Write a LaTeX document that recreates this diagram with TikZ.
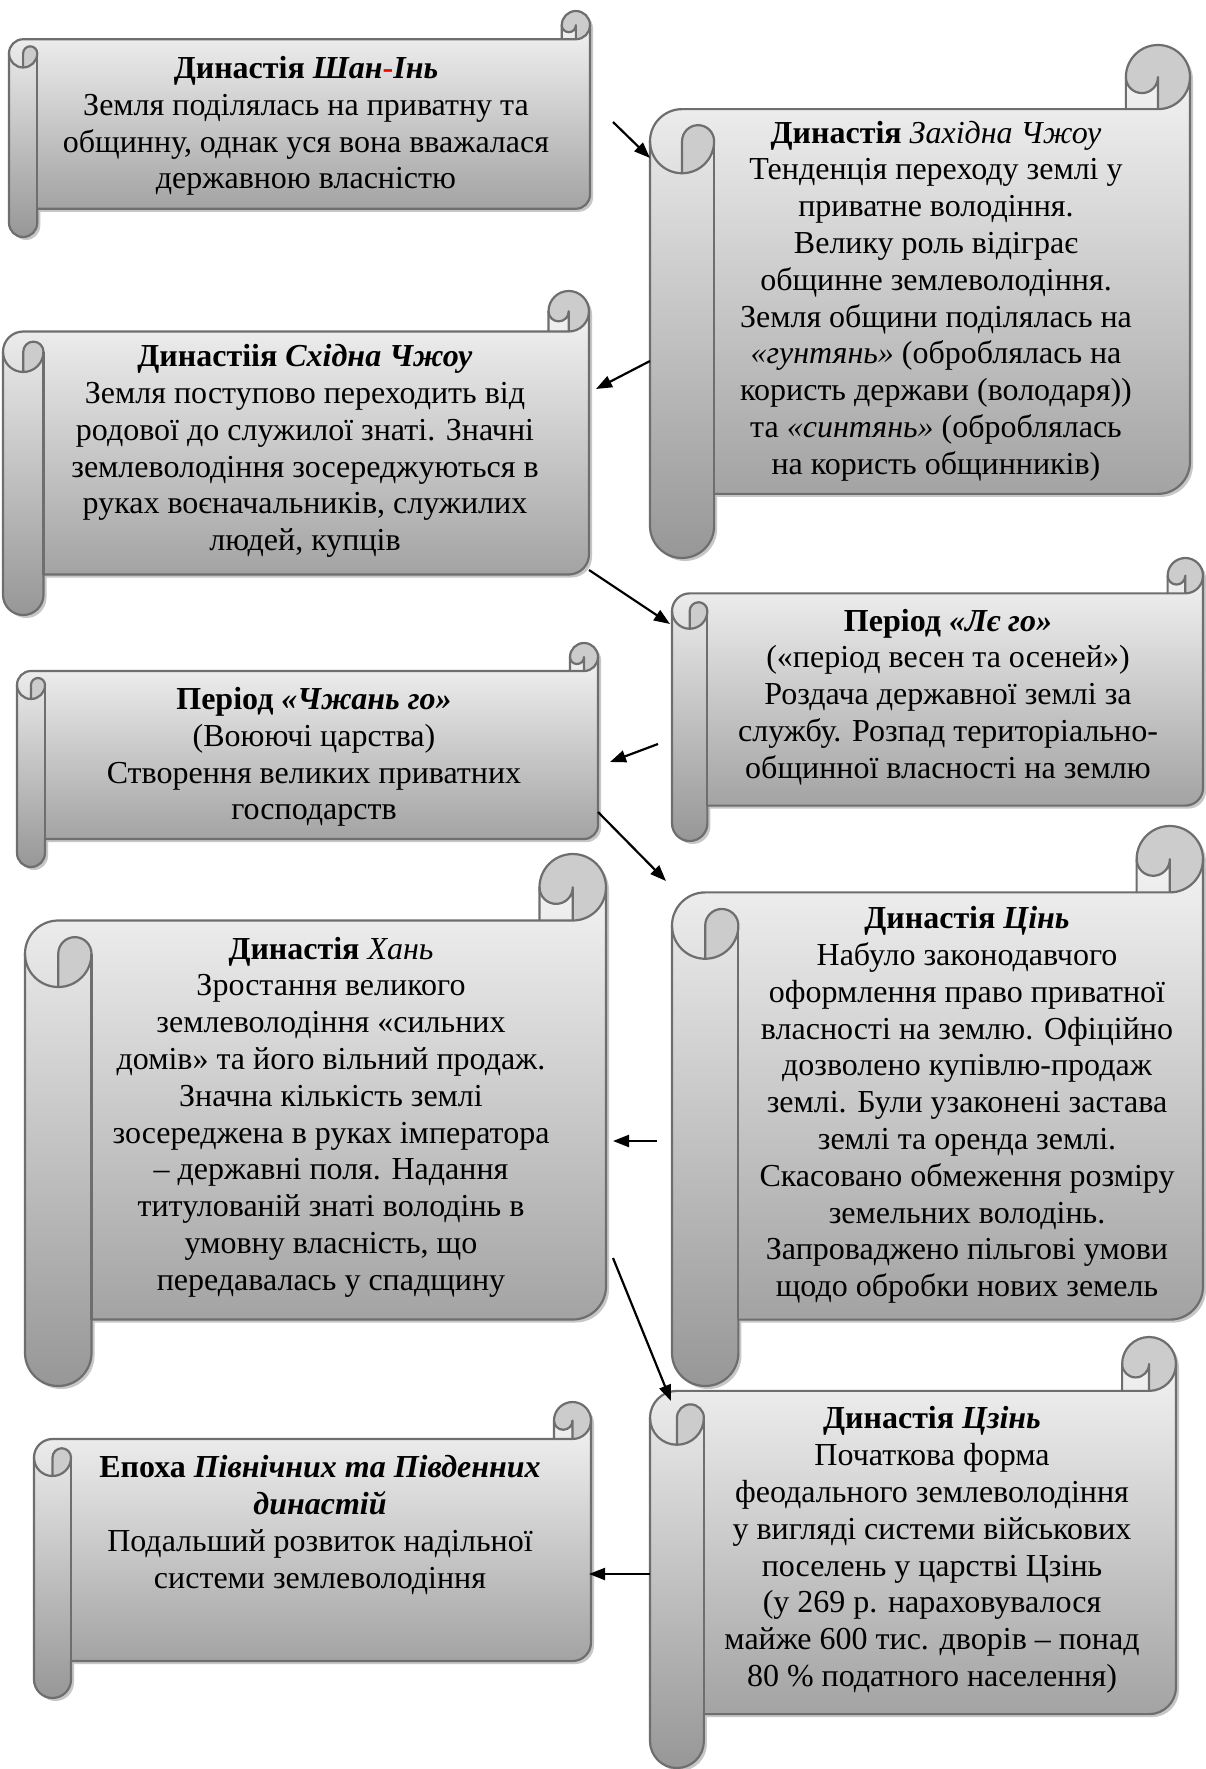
\documentclass[tikz,border=0pt]{standalone}
\usepackage{fontspec}
\setmainfont{Liberation Serif}
\usetikzlibrary{arrows.meta}
\definecolor{edgegray}{HTML}{6E6E6E}
\definecolor{rollgray}{HTML}{CCCCCC}
\definecolor{topgray}{HTML}{F8F8F8}
\definecolor{botgray}{HTML}{979797}
\newcommand{\scrollgeom}[4]{%
  \pgfmathsetmacro\sW{(#3)-(#1)}%
  \pgfmathsetmacro\sH{(#4)-(#2)}%
  \pgfmathsetmacro\sc{0.125*min(\sW,\sH)}%
  \pgfmathsetmacro\sch{\sc/2}%
  \pgfmathsetmacro\scq{\sc/4}%
  \pgfmathsetmacro\xL{#1}%
  \pgfmathsetmacro\xR{#3}%
  \pgfmathsetmacro\xA{#1+\sc/2}%
  \pgfmathsetmacro\xB{#1+\sc}%
  \pgfmathsetmacro\xD{#3-\sc}%
  \pgfmathsetmacro\xE{#3-\sc/2}%
  \pgfmathsetmacro\yA{#2+\sc/2}%
  \pgfmathsetmacro\yB{#2+\sc}%
  \pgfmathsetmacro\yC{#2+1.5*\sc}%
  \pgfmathsetmacro\yD{#2+2*\sc}%
  \pgfmathsetmacro\yE{#4-1.5*\sc}%
  \pgfmathsetmacro\yF{#4-\sc}%
  \pgfmathsetmacro\yG{#4-\sc/2}%
}
\newcommand{\scrollpath}{(\xL,\yC) arc[start angle=180,delta angle=90,radius=\sch] -- (\xD,\yB) -- (\xD,\yA) arc[start angle=180,delta angle=180,radius=\sch] -- (\xR,\yE) arc[start angle=0,delta angle=90,radius=\sch] -- (\xB,\yF) -- (\xB,\yG) arc[start angle=0,delta angle=180,radius=\sch] -- cycle}
\newcommand{\scrollshape}[4]{%
  \scrollgeom{#1+3}{#2+3}{#3+3}{#4+3}%
  \fill[black!22] \scrollpath;
  \scrollgeom{#1}{#2}{#3}{#4}%
  \shade[top color=topgray, bottom color=botgray] \scrollpath;
  \fill[rollgray] (\xA,\yD) arc[start angle=90,delta angle=-90,radius=\sch] arc[start angle=0,delta angle=-180,radius=\scq] -- cycle;
  \fill[rollgray] (\xE,\yB) arc[start angle=90,delta angle=-270,radius=\sch] arc[start angle=180,delta angle=-180,radius=\scq] -- cycle;
  \draw[scrollline] \scrollpath;
  \draw[scrollline] (\xD,\yB) -- (\xE,\yB) arc[start angle=90,delta angle=-90,radius=\sch];
  \draw[scrollline] (\xE,\yB) -- (\xE,\yA) arc[start angle=0,delta angle=180,radius=\scq];
  \draw[scrollline] (\xA,\yD) -- (\xA,\yC) arc[start angle=180,delta angle=180,radius=\scq] arc[start angle=0,delta angle=180,radius=\sch];
  \draw[scrollline] (\xB,\yC) -- (\xB,\yF);
}
\begin{document}
\begin{tikzpicture}[x=1pt,y=1pt,yscale=-1,
  scrollline/.style={draw=edgegray,line width=2.2,line join=round},
  txt/.style={align=center,inner sep=0pt,font=\fontsize{32}{36.8}\selectfont},
  conn/.style={line width=2.2,-{Triangle[length=16,width=12]}}]
\fill[white] (0,0) rectangle (1205,1769);
\useasboundingbox (0,0) rectangle (1205,1769);

\scrollshape{9}{11}{590}{237}
\scrollshape{650}{45}{1190}{558}
\scrollshape{3}{291}{589}{615}
\scrollshape{672}{558}{1203}{841}
\scrollshape{17}{643}{598}{867}
\scrollshape{25}{854}{606}{1386}
\scrollshape{672}{826}{1203}{1386}
\scrollshape{650}{1337}{1176}{1768}
\scrollshape{34}{1402}{591}{1698}

\node[txt] (t1) at (306,126) {\textbf{Династія \textit{Шан}\textcolor{red}{-}\textit{Інь}}\\Земля поділялась на приватну та\\общинну, однак уся вона вважалася\\державною власністю};
\node[txt] (t2) at (936,301) {\textbf{Династія} \textit{Західна Чжоу}\\Тенденція переходу землі у\\приватне володіння.\\Велику роль відіграє\\общинне землеволодіння.\\Земля общини поділялась на\\\textit{«гунтянь»} (оброблялась на\\користь держави (володаря))\\та \textit{«синтянь»} (оброблялась\\на користь общинників)};
\node[txt] (t3) at (305,451) {\textbf{Династіія \textit{Східна Чжоу}}\\Земля поступово переходить від\\родової до служилої знаті. Значні\\землеволодіння зосереджуються в\\руках воєначальників, служилих\\людей, купців};
\node[txt] (t4) at (948,697) {\textbf{Період \textit{«Лє го»}}\\(«період весен та осеней»)\\Роздача державної землі за\\службу. Розпад територіально-\\общинної власності на землю};
\node[txt] (t5) at (314,757) {\textbf{Період \textit{«Чжань го»}}\\(Воюючі царства)\\Створення великих приватних\\господарств};
\node[txt] (t6) at (331,1117) {\textbf{Династія} \textit{Хань}\\Зростання великого\\землеволодіння «сильних\\домів» та його вільний продаж.\\Значна кількість землі\\зосереджена в руках імператора\\– державні поля. Надання\\титулованій знаті володінь в\\умовну власність, що\\передавалась у спадщину};
\node[txt] (t7) at (967,1105) {\textbf{Династія \textit{Цінь}}\\Набуло законодавчого\\оформлення право приватної\\власності на землю. Офіційно\\дозволено купівлю-продаж\\землі. Були узаконені застава\\землі та оренда землі.\\Скасовано обмеження розміру\\земельних володінь.\\Запроваджено пільгові умови\\щодо обробки нових земель};
\node[txt] (t8) at (932,1550) {\textbf{Династія \textit{Цзінь}}\\Початкова форма\\феодального землеволодіння\\у вигляді системи військових\\поселень у царстві Цзінь\\(у 269 р. нараховувалося\\майже 600 тис. дворів – понад\\80 \% податного населення)};
\node[txt] (t9) at (320,1525) {\textbf{Епоха \textit{Північних та Південних}}\\\textbf{\textit{династій}}\\Подальший розвиток надільної\\системи землеволодіння};

\coordinate (a1s) at (613,122);  \coordinate (a1e) at (650,158);
\coordinate (a2s) at (650,361);  \coordinate (a2e) at (596,389);
\coordinate (a3s) at (589,570);  \coordinate (a3e) at (670,624);
\coordinate (a4s) at (658,744);  \coordinate (a4e) at (610,762);
\coordinate (a5s) at (598,812);  \coordinate (a5e) at (666,881);
\coordinate (a6s) at (657,1141); \coordinate (a6e) at (613,1141);
\coordinate (a7s) at (613,1258); \coordinate (a7e) at (671,1401);
\coordinate (a8s) at (650,1574); \coordinate (a8e) at (589,1574);
\draw[conn] (a1s) -- (a1e);
\draw[conn] (a2s) -- (a2e);
\draw[conn] (a3s) -- (a3e);
\draw[conn] (a4s) -- (a4e);
\draw[conn] (a5s) -- (a5e);
\draw[conn] (a6s) -- (a6e);
\draw[conn] (a7s) -- (a7e);
\draw[conn] (a8s) -- (a8e);
\end{tikzpicture}
\end{document}
